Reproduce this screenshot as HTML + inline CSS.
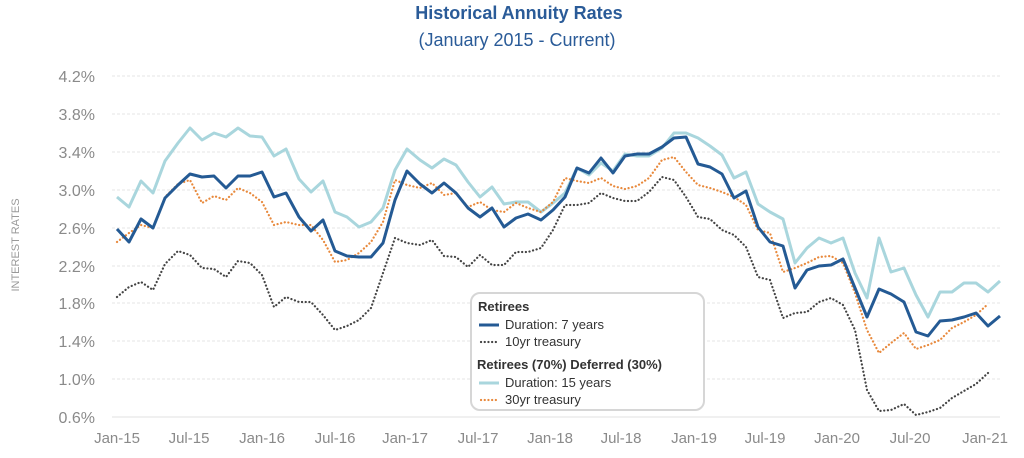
<!DOCTYPE html>
<html><head><meta charset="utf-8"><style>
html,body{margin:0;padding:0;background:#fff;}
svg{display:block;font-family:"Liberation Sans",sans-serif;}
</style></head><body>
<svg width="1024" height="458" viewBox="0 0 1024 458" xmlns="http://www.w3.org/2000/svg">
<text x="519" y="19" text-anchor="middle" font-size="18" font-weight="bold" fill="#2a5b98">Historical Annuity Rates</text>
<text x="517" y="46" text-anchor="middle" font-size="18" fill="#2a5b98">(January 2015 - Current)</text>
<g stroke="#e6e6e6" stroke-width="1" stroke-dasharray="3 2">
<line x1="112" y1="76" x2="1000" y2="76"/><line x1="112" y1="114" x2="1000" y2="114"/>
<line x1="112" y1="152" x2="1000" y2="152"/><line x1="112" y1="190" x2="1000" y2="190"/>
<line x1="112" y1="228" x2="1000" y2="228"/><line x1="112" y1="266" x2="1000" y2="266"/>
<line x1="112" y1="303" x2="1000" y2="303"/><line x1="112" y1="341" x2="1000" y2="341"/>
<line x1="112" y1="379" x2="1000" y2="379"/>
</g>
<line x1="112" y1="417" x2="1000" y2="417" stroke="#e2e2e2"/>
<g font-size="16" fill="#8a8a8a" text-anchor="end">
<text x="95" y="82">4.2%</text><text x="95" y="120">3.8%</text><text x="95" y="158">3.4%</text>
<text x="95" y="196">3.0%</text><text x="95" y="234">2.6%</text><text x="95" y="272">2.2%</text>
<text x="95" y="309">1.8%</text><text x="95" y="347">1.4%</text><text x="95" y="385">1.0%</text>
<text x="95" y="423">0.6%</text>
</g>
<text transform="translate(19,245) rotate(-90)" text-anchor="middle" font-size="11" fill="#999">INTEREST RATES</text>
<g font-size="15" fill="#8a8a8a" text-anchor="middle">
<text x="117" y="443">Jan-15</text><text x="189" y="443">Jul-15</text><text x="262" y="443">Jan-16</text>
<text x="335" y="443">Jul-16</text><text x="405" y="443">Jan-17</text><text x="478" y="443">Jul-17</text>
<text x="550" y="443">Jan-18</text><text x="621" y="443">Jul-18</text><text x="694" y="443">Jan-19</text>
<text x="765" y="443">Jul-19</text><text x="837" y="443">Jan-20</text><text x="910" y="443">Jul-20</text>
<text x="985" y="443">Jan-21</text>
</g>
<g fill="none" stroke-linejoin="round">
<polyline stroke="#a9d6dd" stroke-width="3" points="117,197 129,207 141,181 153,193 165,161 178,143 190,128 202,140 214,133 226,137 238,128 250,136 262,137 274,156 286,149 299,179 311,192 323,181 335,212 347,217 359,227 371,222 383,208 395,170 407,149 420,160 432,168 444,159 456,165 468,182 480,197 492,187 504,204 516,202 528,202 541,212 553,203 565,193 577,168 589,175 601,163 613,171 625,154 637,156 649,156 662,148 674,133 686,133 698,138 710,146 722,155 734,178 746,172 758,204 770,212 783,219 795,263 807,248 819,238 831,243 843,238 855,273 867,298 879,238 891,272 904,268 916,295 928,317 940,292 952,292 964,283 976,283 988,292 1000,281"/>
<polyline stroke="#e8893c" stroke-width="2.2" stroke-dasharray="0.1 3.6" stroke-linecap="round" points="117,242 129,233 141,225 153,228 165,197 178,184 190,180 202,203 214,196 226,200 238,188 250,193 262,202 274,225 286,222 299,225 311,225 323,240 335,262 347,260 359,253 371,242 383,222 395,180 407,185 420,188 432,183 444,195 456,193 468,207 480,202 492,210 504,212 516,203 528,208 541,212 553,202 565,178 577,181 589,183 601,178 613,186 625,189 637,186 649,178 662,160 674,157 686,172 698,185 710,188 722,192 734,197 746,205 758,230 770,233 783,272 795,268 807,263 819,257 831,256 843,263 855,293 867,330 879,353 891,343 904,333 916,349 928,345 940,340 952,328 964,322 976,315 988,304"/>
<polyline stroke="#444" stroke-width="2.2" stroke-dasharray="0.1 3.6" stroke-linecap="round" points="117,297 129,287 141,282 153,290 165,264 178,251 190,255 202,268 214,269 226,277 238,261 250,263 262,275 274,307 286,297 299,302 311,302 323,315 335,330 347,326 359,320 371,308 383,273 395,238 407,243 420,245 432,240 444,256 456,257 468,267 480,255 492,265 504,265 516,252 528,252 541,248 553,230 565,205 577,205 589,203 601,193 613,198 625,201 637,201 649,192 662,177 674,180 686,197 698,217 710,219 722,230 734,235 746,247 758,277 770,280 783,318 795,313 807,312 819,302 831,298 843,305 855,330 867,390 879,411 891,410 904,404 916,415 928,412 940,408 952,398 964,391 976,384 988,373"/>
<polyline stroke="#245a94" stroke-width="3" points="117,229 129,242 141,219 153,228 165,198 178,185 190,174 202,177 214,176 226,188 238,176 250,176 262,172 274,197 286,193 299,217 311,231 323,220 335,251 347,256 359,257 371,257 383,243 395,200 407,171 420,184 432,193 444,183 456,193 468,208 480,217 492,208 504,227 516,218 528,214 541,220 553,210 565,197 577,168 589,173 601,158 613,173 625,156 637,154 649,154 662,147 674,138 686,137 698,164 710,167 722,174 734,198 746,191 758,227 770,242 783,246 795,288 807,270 819,266 831,265 843,259 855,288 867,317 879,289 891,294 904,302 916,332 928,336 940,321 952,320 964,317 976,313 988,326 1000,316"/>
</g>
<rect x="471" y="293" width="233" height="117" rx="9" fill="#fff" stroke="#d6d6d6" stroke-width="2"/>
<g font-size="13" fill="#333">
<text x="478" y="311" font-weight="bold">Retirees</text>
<line x1="479" y1="325" x2="499" y2="325" stroke="#245a94" stroke-width="3"/>
<text x="505" y="329">Duration: 7 years</text>
<line x1="481" y1="342" x2="499" y2="342" stroke="#444" stroke-width="2.2" stroke-dasharray="0.1 3.6" stroke-linecap="round"/>
<text x="505" y="346">10yr treasury</text>
<text x="477" y="369" font-weight="bold">Retirees (70%) Deferred (30%)</text>
<line x1="479" y1="383" x2="499" y2="383" stroke="#a9d6dd" stroke-width="3"/>
<text x="505" y="387">Duration: 15 years</text>
<line x1="481" y1="400" x2="499" y2="400" stroke="#e8893c" stroke-width="2.2" stroke-dasharray="0.1 3.6" stroke-linecap="round"/>
<text x="505" y="404">30yr treasury</text>
</g>
</svg>
</body></html>
